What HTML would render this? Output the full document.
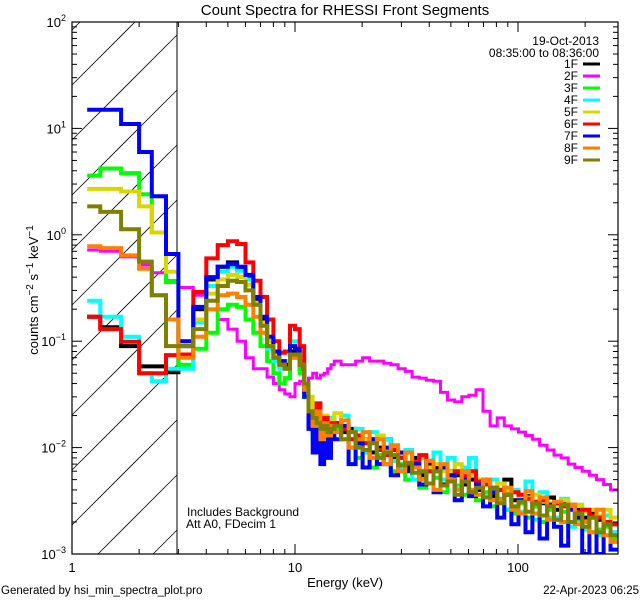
<!DOCTYPE html>
<html><head><meta charset="utf-8">
<style>
html,body{margin:0;padding:0;background:#fff;width:640px;height:600px;overflow:hidden;}
svg{display:block;font-family:"Liberation Sans",sans-serif;}
</style></head>
<body>
<svg id="chart" width="640" height="600" viewBox="0 0 640 600" xmlns="http://www.w3.org/2000/svg">
<rect width="640" height="600" fill="#fff"/>
<defs><clipPath id="plotclip"><rect x="72" y="22" width="546" height="532"/></clipPath></defs>
<g id="hatch"></g>
<line x1="177" y1="22" x2="177" y2="554" stroke="#000" stroke-width="1"/>
<g id="series" clip-path="url(#plotclip)"></g>
<rect x="72" y="22" width="546" height="532" fill="none" stroke="#000" stroke-width="1.2"/>
<g id="axes"></g>
<text x="345" y="15" font-size="15" text-anchor="middle">Count Spectra for RHESSI Front Segments</text>
<text x="599" y="45" font-size="12" text-anchor="end">19-Oct-2013</text>
<text x="599" y="57" font-size="12" text-anchor="end">08:35:00 to 08:36:00</text>
<g id="legend"></g>
<text x="187" y="516" font-size="12">Includes Background</text>
<text x="186" y="528" font-size="12">Att A0, FDecim 1</text>
<text x="345" y="587" font-size="13" text-anchor="middle">Energy (keV)</text>
<text transform="translate(38,290) rotate(-90)" font-size="13" text-anchor="middle">counts cm<tspan dy="-5" font-size="10">−2</tspan><tspan dy="5"> s</tspan><tspan dy="-5" font-size="10">−1</tspan><tspan dy="5"> keV</tspan><tspan dy="-5" font-size="10">−1</tspan></text>
<text x="1" y="594" font-size="11.5">Generated by hsi_min_spectra_plot.pro</text>
<text x="639" y="594" font-size="11.5" text-anchor="end">22-Apr-2023 06:25</text>
</svg>
<script>
const energyEdges=[1.17,1.34,1.66,2.0,2.28,2.64,3.0,
3.5,4,4.5,5,5.5,6,6.5,7,7.5,8,8.5,9,9.5,10,10.5,11,11.5,12,12.5,13,13.5,14,14.5,15,
16.1,17.4,18.7,20.1,21.6,23.3,25.0,26.9,29.0,31.2,33.5,36.1,38.8,41.8,44.9,48.3,52.0,56.0,60.2,64.8,69.7,75.0,80.7,86.8,93.4,100.5,108,116,125,135,145,156,168,180,194,209,225,242,260,280];
const segmentNames=["1F","2F","3F","4F","5F","6F","7F","8F","9F"];
const segmentColors=["#000000","#ff00ff","#00ff00","#00ffff","#d8d800","#ff0000","#0000ff","#ff8000","#808000"];
const xTickValues=[1,10,100];
const xTickLabels=["1","10","100"];
const yTickExponents=[2,1,0,-1,-2,-3];
// low-energy bins (1.17-3 keV)
const low1F=[0.17,0.135,0.09,0.058,0.058,0.051];
const low2F=[0.72,0.70,0.62,0.52,0.44,0.37];
const low3F=[3.6,4.2,3.8,2.4,1.05,0.36];
const low4F=[0.24,0.17,0.11,0.05,0.042,0.055];
const low5F=[2.7,2.7,2.55,1.85,1.05,0.45];
const low6F=[0.17,0.13,0.099,0.05,0.05,0.074];
const low7F=[15,15,11,6.0,2.3,0.66];
const low8F=[0.78,0.75,0.64,0.48,0.27,0.16];
const low9F=[1.85,1.64,1.13,0.56,0.27,0.09];
// 3-15 keV bins
const mid1F=[0.09,0.2,0.38,0.5,0.55,0.48,0.4,0.25,0.16,0.1,0.08,0.06,0.06,0.08,0.08,0.055,0.03,0.018,0.014,0.02,0.012,0.017,0.011,0.018];
const mid2F=[0.32,0.27,0.2,0.16,0.13,0.1,0.07,0.055,0.055,0.046,0.04,0.035,0.032,0.03,0.04,0.042,0.036,0.045,0.05,0.045,0.048,0.05,0.055,0.06];
const mid3F=[0.06,0.085,0.12,0.2,0.22,0.21,0.16,0.12,0.09,0.065,0.05,0.04,0.045,0.07,0.07,0.05,0.03,0.016,0.012,0.017,0.01,0.015,0.011,0.013];
const mid4F=[0.055,0.15,0.33,0.45,0.5,0.46,0.38,0.22,0.14,0.085,0.065,0.055,0.055,0.1,0.1,0.07,0.03,0.018,0.012,0.02,0.011,0.018,0.013,0.019];
const mid5F=[0.1,0.16,0.28,0.38,0.42,0.4,0.34,0.23,0.15,0.1,0.075,0.065,0.065,0.09,0.09,0.07,0.04,0.03,0.02,0.024,0.016,0.02,0.015,0.018];
const mid6F=[0.075,0.29,0.6,0.8,0.87,0.82,0.55,0.37,0.26,0.16,0.1,0.078,0.08,0.14,0.13,0.09,0.04,0.02,0.016,0.026,0.013,0.019,0.012,0.017];
const mid7F=[0.1,0.21,0.4,0.5,0.53,0.5,0.42,0.26,0.17,0.11,0.08,0.065,0.06,0.09,0.085,0.06,0.03,0.015,0.009,0.018,0.007,0.014,0.008,0.015];
const mid8F=[0.07,0.11,0.2,0.27,0.28,0.26,0.22,0.17,0.12,0.09,0.07,0.06,0.055,0.07,0.075,0.06,0.035,0.022,0.016,0.022,0.012,0.017,0.013,0.016];
const mid9F=[0.09,0.13,0.24,0.33,0.37,0.36,0.3,0.22,0.14,0.09,0.07,0.06,0.055,0.075,0.075,0.06,0.04,0.022,0.019,0.017,0.015,0.016,0.014,0.015];
// 15-280 keV bins, in units of 1e-3 counts
const hi1F_milli=[17,14,15,11,12,9,10,12,8,9,6.5,8,5.5,7,6.5,4.5,6,5.5,4.5,5,4,5,3.5,4,5,3.2,3.2,3.5,2.8,3,3.4,2.6,3,2.8,2.6,2.2,2.5,2.1,2,1.9];
const hi2F_milli=[65,60,60,65,70,65,65,62,60,55,52,46,45,43,42,33,28,27,30,31,35,22,16,19,16,15,14,13,12,10.5,9.5,8.5,8,7,6.5,6,5.5,5,4.5,4];
const hi3F_milli=[15,12,10,8,11,6.5,8.5,7,6,7,5,6.5,4.2,6,5.2,3.8,5,4.4,3.6,4,3.2,3.8,2.8,3.3,2.6,2.4,3,2.2,2.8,2.0,2.6,2.1,2.5,1.8,2.1,1.8,1.6,1.7,1.8,1.4];
const hi4F_milli=[16,20,12,15,9,14,8,12,7.5,6.5,9.5,5,8,6,9,5,8,4.2,6.5,8,5,3.5,5,3,2.6,4,2.5,4.8,2.1,3.8,2.2,2.2,3.3,1.8,2.9,1.7,2.6,1.5,2.3,1.6];
const hi5F_milli=[21,16,14,13,12,11,13,9.5,10,8.5,9,7,8,6.5,7,6,6,7,5.5,5.5,5,4.8,4.2,4.6,3.8,3.8,3.6,3.4,3.6,3.1,3,2.9,3.2,2.8,2.9,2.5,2.6,2.3,2.6,2.2];
const hi6F_milli=[17,15,12,13,11,12,9.5,8.5,9.5,8,7,7.3,8.5,6,6,6.5,5,6,5.4,6,4.8,4.5,4.2,4,3.6,3.8,3.6,3.3,3.1,3.2,2.9,3,2.8,2.9,2.5,2.6,2.3,2.2,2,1.9];
const hi7F_milli=[12,16,7,11,6.5,12,7,10,5.5,9,6,7,4.5,7.5,3.8,6.5,5.5,3.2,5,3.5,4.5,2.8,3.8,2.2,3.6,1.9,3.2,1.6,3,1.4,2.9,1.8,1.2,2.6,2.2,1.0,2.2,1.0,1.9,1.1];
const hi8F_milli=[14,18,10,12,14,8,12,7,10.5,6,9,6.5,5,7.5,4,7,5,4,6,4,3.6,5,3.2,3.2,4.2,2.6,2.4,3.9,2.4,3.4,2.1,3.1,2.0,2.9,1.9,2.0,1.6,2.6,1.5,1.3];
const hi9F_milli=[16,12,14,10,9.5,11,8,9,8.5,6.8,7.2,5.8,6,4.6,6,4.4,4.8,3.6,4.8,3.8,4.2,3.4,4.2,3,3.6,2.8,3.1,2.5,3,2.3,2.8,2.1,2.9,2,2.4,1.8,2.2,1.6,1.9,1.5];

const NS="http://www.w3.org/2000/svg";
const X0=72,X1=618,Y0=22,Y1=554,DEC=223,YDEC=106.4,XH=177;
function xs(e){return X0+DEC*Math.log10(e);}
function ys(v){return Y0+YDEC*(2-Math.log10(v));}
function mk(tag,attrs,parent){const el=document.createElementNS(NS,tag);for(const k in attrs)el.setAttribute(k,attrs[k]);parent.appendChild(el);return el;}

// hatch: 45-degree lines clipped manually to the hatch box
const hatch=document.getElementById('hatch');
for(let k=-2;k<12;k++){
  const yb=85+55*k;
  const xa=X0+Math.max(0,yb-Y1);
  const xb=Math.min(XH,X0+(yb-Y0));
  if(xb<=xa)continue;
  const ln=mk('line',{x1:xa,y1:yb-(xa-X0),x2:xb,y2:yb-(xb-X0),stroke:'#000','stroke-width':0.8},hatch);
  
  
}

const lows=[low1F,low2F,low3F,low4F,low5F,low6F,low7F,low8F,low9F];
const mids=[mid1F,mid2F,mid3F,mid4F,mid5F,mid6F,mid7F,mid8F,mid9F];
const his=[hi1F_milli,hi2F_milli,hi3F_milli,hi4F_milli,hi5F_milli,hi6F_milli,hi7F_milli,hi8F_milli,hi9F_milli];
const sg=document.getElementById('series');
for(let s=0;s<9;s++){
  const vals=lows[s].concat(mids[s],his[s].map(v=>v/1000));
  let d='';
  for(let i=0;i<vals.length&&i<energyEdges.length-1;i++){
    const y=Math.min(Y1,Math.max(Y0,ys(vals[i]))).toFixed(1),xa=xs(energyEdges[i]).toFixed(1),xb=Math.min(X1,xs(energyEdges[i+1])).toFixed(1);
    d+=(i===0?'M'+xa+','+y:'V'+y)+'H'+xb;
  }
  const p=mk('path',{d:d,fill:'none',stroke:segmentColors[s],'stroke-width':s===1?3:4,'stroke-linejoin':'miter'},sg);
  
  
}

// axes ticks
const ax=document.getElementById('axes');
for(let dec=0;dec<3;dec++){
  for(let m=1;m<10;m++){
    const e=m*Math.pow(10,dec);const x=xs(e);if(x>X1+0.5)break;
    const L=m===1?10:5;
    const t1=mk('line',{x1:x,y1:Y1,x2:x,y2:Y1-L,stroke:'#000','stroke-width':1},ax);
    
    
    const t2=mk('line',{x1:x,y1:Y0,x2:x,y2:Y0+L,stroke:'#000','stroke-width':1},ax);
    
    
  }
}
xTickValues.forEach((v,i)=>{
  const t=mk('text',{x:xs(v),y:572,'font-size':13,'text-anchor':'middle'},ax);
  t.textContent=xTickLabels[i];
  
  
});
for(let p=-3;p<2;p++){
  for(let m=1;m<10;m++){
    const y=ys(m*Math.pow(10,p));const L=m===1?10:5;
    const a=mk('line',{x1:X0,y1:y,x2:X0+L,y2:y,stroke:'#000','stroke-width':1},ax);
    
    
    const b=mk('line',{x1:X1,y1:y,x2:X1-L,y2:y,stroke:'#000','stroke-width':1},ax);
    
    
  }
}
yTickExponents.forEach(p=>{
  const y=ys(Math.pow(10,p));
  const t=mk('text',{x:66,y:y+5,'font-size':13,'text-anchor':'end'},ax);
  
  
  const a=document.createElementNS(NS,'tspan');a.textContent='10';t.appendChild(a);
  const b=document.createElementNS(NS,'tspan');b.setAttribute('dy','-6');b.setAttribute('font-size','9');b.textContent=(p<0?'−':'')+Math.abs(p);t.appendChild(b);
});

// legend
const lg=document.getElementById('legend');
segmentNames.forEach((n,i)=>{
  const y=68+12*i;
  const t=mk('text',{x:578,y:y,'font-size':12,'text-anchor':'end'},lg);
  t.textContent=n;
  
  
  const l=mk('line',{x1:583,y1:y-4,x2:600,y2:y-4,stroke:segmentColors[i],'stroke-width':3},lg);
  
  
});
</script>
</body></html>
